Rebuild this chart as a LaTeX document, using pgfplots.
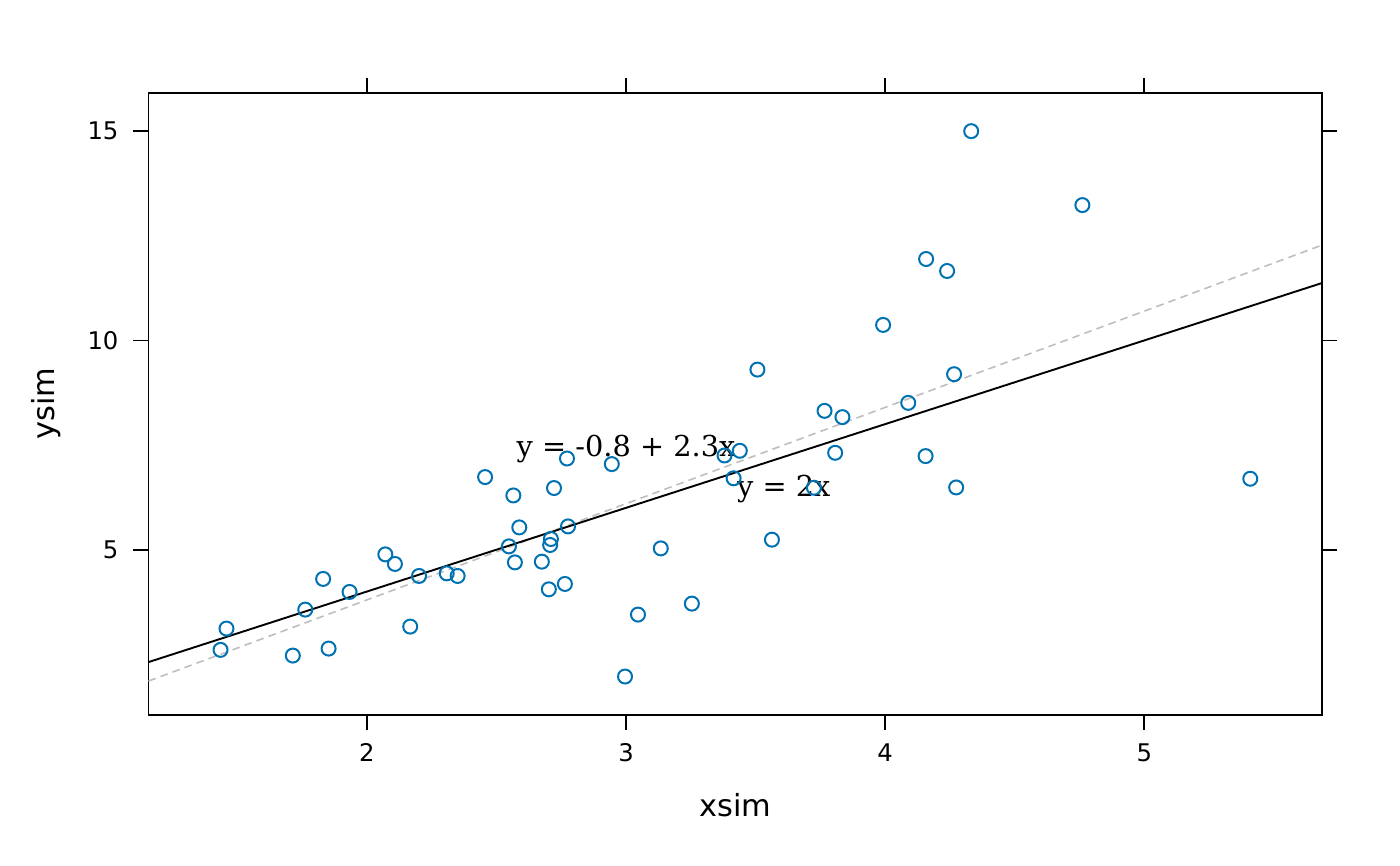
\documentclass[border=0pt]{standalone}
\usepackage{fontspec}
\setmainfont{DejaVu Sans}
\newfontfamily\annfont{DejaVu Serif}
\usepackage{pgfplots}
\pgfplotsset{compat=1.18}
\definecolor{ptblue}{RGB}{0,114,178}
\definecolor{dashgray}{RGB}{190,190,190}
\pgfplotstableread{
x y
1.435 2.606
1.458 3.115
1.714 2.470
1.762 3.568
1.831 4.301
1.852 2.637
1.933 3.990
2.071 4.888
2.108 4.659
2.167 3.162
2.201 4.372
2.308 4.434
2.350 4.372
2.456 6.735
2.548 5.079
2.565 6.296
2.571 4.697
2.588 5.532
2.675 4.714
2.702 4.053
2.707 5.112
2.710 5.255
2.722 6.473
2.764 4.181
2.772 7.179
2.776 5.556
2.945 7.045
2.996 1.969
3.046 3.449
3.134 5.031
3.254 3.711
3.380 7.251
3.415 6.706
3.439 7.363
3.507 9.303
3.563 5.239
3.725 6.480
3.766 8.317
3.807 7.315
3.835 8.167
3.992 10.370
4.089 8.508
4.156 7.236
4.158 11.945
4.239 11.659
4.266 9.193
4.274 6.487
4.332 15.000
4.761 13.234
5.409 6.695
}\simdata
\begin{document}
\begin{tikzpicture}
\begin{axis}[
  scale only axis,
  width=586.9bp, height=310.85bp,
  xmin=1.157, xmax=5.687, ymin=1.057, ymax=15.912,
  axis line style={line width=0.9bp},
  tick style={line width=0.9bp, black},
  tick align=outside, tick pos=both,
  major tick length=7.5bp,
  xtick={2,3,4,5}, ytick={5,10,15},
  minor tick num=0,
  /pgf/number format/assume math mode=true,
  ticklabel style={font=\fontsize{12.15bp}{14bp}\selectfont},
  xticklabel style={yshift=-3.5bp},
  yticklabel style={xshift=-4bp},
  xlabel={xsim}, ylabel={ysim},
  label style={font=\fontsize{15.2bp}{18bp}\selectfont},
  xlabel style={at={(axis description cs:0.5,-0.1641)}, anchor=base},
  ylabel style={at={(axis description cs:-0.0801,0.5)}, anchor=base},
  clip=true,
]
\addplot[only marks, mark=o, mark size=3.5bp, mark options={ptblue, line width=1bp}] table {\simdata};
\addplot[dashgray, dash pattern=on 3.8bp off 2.6bp, line width=0.8bp] coordinates {(1.157,1.861) (5.687,12.280)};
\addplot[black, line width=0.95bp] coordinates {(1.157,2.314) (5.687,11.374)};
\node[anchor=base, font=\annfont\fontsize{14.4bp}{17bp}\selectfont] at (axis cs:3.0,7.22) {y = -0.8 + 2.3x};
\node[anchor=base, font=\annfont\fontsize{14.4bp}{17bp}\selectfont] at (axis cs:3.609,6.265) {y = 2x};
\end{axis}
\pgfresetboundingbox
\path[use as bounding box] ([xshift=-74.25bp,yshift=-75.65bp]current axis.south west) rectangle ([xshift=38.85bp,yshift=46.5bp]current axis.north east);
\end{tikzpicture}
\end{document}
